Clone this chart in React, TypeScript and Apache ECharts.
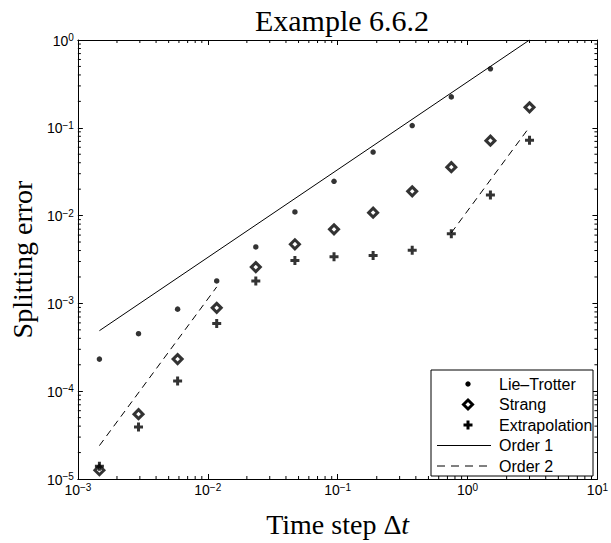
import React, { useEffect, useRef } from "react";
import * as echarts from "echarts";

// ---- data ----
const timeSteps = [0.00146484375, 0.0029296875, 0.005859375, 0.01171875, 0.0234375, 0.046875, 0.09375, 0.1875, 0.375, 0.75, 1.5, 3];
const lieTrotter = [2.32e-4, 4.52e-4, 8.6e-4, 1.8e-3, 4.4e-3, 1.1e-2, 2.46e-2, 5.3e-2, 1.06e-1, 2.25e-1, 4.7e-1];
const strang = [1.26e-5, 5.48e-5, 2.32e-4, 8.9e-4, 2.59e-3, 4.71e-3, 6.97e-3, 1.08e-2, 1.89e-2, 3.56e-2, 7.14e-2, 0.171];
const extrapolation = [1.4e-5, 3.9e-5, 1.31e-4, 5.92e-4, 1.8e-3, 3.08e-3, 3.39e-3, 3.51e-3, 4.04e-3, 6.22e-3, 1.72e-2, 7.2e-2];
const order1X = [0.00146484375, 3];
const order1Y = [4.89e-4, 1.0];
const order2aX = [0.00146484375, 0.01171875];
const order2aY = [2.4e-5, 1.54e-3];
const order2bX = [0.75, 3];
const order2bY = [6.37e-3, 0.102];
const legendNames = ["Lie\u2013Trotter", "Strang", "Extrapolation", "Order 1", "Order 2"];
const xDecades = [-3, -2, -1, 0];
const yDecades = [-5, -4, -3, -2, -1];
const minorMantissas = [2, 3, 4, 5, 6, 7, 8, 9];

const PLUS = "path://M3,0H6V3H9V6H6V9H3V6H0V3H3Z";
const SANS = "Liberation Sans";
const SERIF = "Liberation Serif";

function pairs(xs: number[], ys: number[]) {
  return ys.map((y, i) => [xs[i], y]);
}

function powLabel(v: number) {
  const e = Math.round(Math.log10(v));
  const s = e < 0 ? "\u2212" + -e : String(e);
  return "{b|10}{s|" + s + "}";
}

const labelRich = {
  b: { fontSize: 14, fontFamily: SANS, color: "#000", lineHeight: 15, verticalAlign: "bottom" },
  s: { fontSize: 10, fontFamily: SANS, color: "#000", lineHeight: 10, verticalAlign: "top", padding: [0, 0, 8, 0] },
};

export default function App() {
  const ref = useRef<HTMLDivElement>(null);
  useEffect(() => {
    if (!ref.current) return;
    const chart = echarts.init(ref.current, null, { renderer: "svg" });

    const xMinor: number[] = [];
    xDecades.forEach((d) => minorMantissas.forEach((m) => xMinor.push(m * Math.pow(10, d))));
    const yMinor: number[] = [];
    yDecades.forEach((d) => minorMantissas.forEach((m) => yMinor.push(m * Math.pow(10, d))));

    const tickLine = (x1: number, y1: number, x2: number, y2: number) => ({
      type: "line",
      shape: { x1, y1, x2, y2 },
      style: { stroke: "#000", lineWidth: 1 },
    });

    const baseX = {
      type: "log",
      logBase: 10,
      min: 0.001,
      max: 10,
      splitLine: { show: false },
      axisLine: { show: true, onZero: false, lineStyle: { color: "#000", width: 1 } },
      axisTick: { show: true, inside: true, length: 5, lineStyle: { color: "#000", width: 1 } },
    };
    const baseY = {
      type: "log",
      logBase: 10,
      min: 1e-5,
      max: 1,
      splitLine: { show: false },
      axisLine: { show: true, onZero: false, lineStyle: { color: "#000", width: 1 } },
      axisTick: { show: true, inside: true, length: 5, lineStyle: { color: "#000", width: 1 } },
    };

    // legend drawn as graphic
    const lgX = 431, lgY = 370, lgW = 162, lgH = 106;
    const rowY = [384, 404.5, 425, 445.5, 466];
    const mx = 468;
    const d = 4.5;
    const legendGraphic: any[] = [
      { type: "rect", shape: { x: lgX, y: lgY, width: lgW, height: lgH }, style: { fill: "#fff", stroke: "#000", lineWidth: 1 }, z: 100 },
      { type: "circle", shape: { cx: mx, cy: rowY[0], r: 2.7 }, style: { fill: "#000" }, z: 101 },
      {
        type: "polygon",
        shape: { points: [[mx, rowY[1] - d], [mx + d, rowY[1]], [mx, rowY[1] + d], [mx - d, rowY[1]]] },
        style: { fill: "#fff", stroke: "#000", lineWidth: 3 },
        z: 101,
      },
      {
        type: "polygon",
        shape: {
          points: [
            [mx - 1.5, rowY[2] - 4.5], [mx + 1.5, rowY[2] - 4.5], [mx + 1.5, rowY[2] - 1.5], [mx + 4.5, rowY[2] - 1.5],
            [mx + 4.5, rowY[2] + 1.5], [mx + 1.5, rowY[2] + 1.5], [mx + 1.5, rowY[2] + 4.5], [mx - 1.5, rowY[2] + 4.5],
            [mx - 1.5, rowY[2] + 1.5], [mx - 4.5, rowY[2] + 1.5], [mx - 4.5, rowY[2] - 1.5], [mx - 1.5, rowY[2] - 1.5],
          ],
        },
        style: { fill: "#000" },
        z: 101,
      },
      { type: "line", shape: { x1: 437, y1: rowY[3], x2: 491, y2: rowY[3] }, style: { stroke: "#000", lineWidth: 1 }, z: 101 },
      { type: "line", shape: { x1: 437, y1: rowY[4], x2: 491, y2: rowY[4] }, style: { stroke: "#000", lineWidth: 1, lineDash: [8, 6] }, z: 101 },
    ];
    legendNames.forEach((n, i) => {
      legendGraphic.push({
        type: "text",
        x: 499,
        y: rowY[i],
        style: { text: n, fill: "#000", font: "16px " + SANS, textVerticalAlign: "middle", textAlign: "left" },
        z: 101,
      });
    });

    chart.setOption({
      animation: false,
      backgroundColor: "#fff",
      title: {
        text: "Example 6.6.2",
        left: 337,
        top: 0,
        textAlign: "center",
        textStyle: { fontFamily: SERIF, fontSize: 30, fontWeight: "normal", color: "#000" },
      },
      grid: { left: 74, right: 12, top: 40, bottom: 61, containLabel: false },
      xAxis: [
        {
          ...baseX,
          position: "bottom",
          axisLabel: { formatter: powLabel, rich: labelRich, margin: 3, color: "#000" },
          name: "Time step \u0394{i|t}",
          nameLocation: "middle",
          nameGap: 31,
          nameTextStyle: {
            fontFamily: SERIF,
            fontSize: 28,
            color: "#000",
            rich: { i: { fontFamily: SERIF, fontSize: 28, fontStyle: "italic", color: "#000" } },
          },
        },
        { ...baseX, position: "top", axisLabel: { show: false } },
      ],
      yAxis: [
        {
          ...baseY,
          position: "left",
          axisLabel: { formatter: powLabel, rich: labelRich, margin: 4, color: "#000" },
          name: "Splitting error",
          nameLocation: "middle",
          nameGap: 39,
          nameRotate: 90,
          nameTextStyle: { fontFamily: SERIF, fontSize: 28, color: "#000" },
        },
        { ...baseY, position: "right", axisLabel: { show: false } },
      ],
      series: [
        {
          type: "custom",
          name: "xminor",
          silent: true,
          clip: false,
          data: xMinor.map((v) => [v, 1e-5]),
          renderItem: (params: any, api: any) => {
            const p = api.coord([api.value(0), 1e-5]);
            const cs = params.coordSys;
            return {
              type: "group",
              children: [tickLine(p[0], cs.y + cs.height, p[0], cs.y + cs.height - 3), tickLine(p[0], cs.y, p[0], cs.y + 3)],
            };
          },
        },
        {
          type: "custom",
          name: "yminor",
          silent: true,
          clip: false,
          data: yMinor.map((v) => [0.001, v]),
          renderItem: (params: any, api: any) => {
            const p = api.coord([0.001, api.value(1)]);
            const cs = params.coordSys;
            return {
              type: "group",
              children: [tickLine(cs.x, p[1], cs.x + 3, p[1]), tickLine(cs.x + cs.width, p[1], cs.x + cs.width - 3, p[1])],
            };
          },
        },
        {
          name: "Order 1",
          type: "line",
          data: pairs(order1X, order1Y),
          showSymbol: false,
          symbol: "none",
          lineStyle: { color: "#000", width: 1 },
          z: 2,
        },
        {
          name: "Order 2",
          type: "line",
          data: pairs(order2aX, order2aY),
          showSymbol: false,
          symbol: "none",
          lineStyle: { color: "#000", width: 1, type: [7, 5] },
          z: 2,
        },
        {
          name: "Order 2",
          type: "line",
          data: pairs(order2bX, order2bY),
          showSymbol: false,
          symbol: "none",
          lineStyle: { color: "#000", width: 1, type: [7, 5] },
          z: 2,
        },
        {
          name: "Lie\u2013Trotter",
          type: "scatter",
          data: pairs(timeSteps, lieTrotter),
          symbol: "circle",
          symbolSize: 5.5,
          itemStyle: { color: "#000" },
          z: 3,
        },
        {
          name: "Strang",
          type: "scatter",
          data: pairs(timeSteps, strang),
          symbol: "diamond",
          symbolSize: 9,
          itemStyle: { color: "#fff", borderColor: "#000", borderWidth: 3 },
          z: 3,
        },
        {
          name: "Extrapolation",
          type: "scatter",
          data: pairs(timeSteps, extrapolation),
          symbol: PLUS,
          symbolSize: 9,
          itemStyle: { color: "#000" },
          z: 4,
        },
      ],
      graphic: legendGraphic,
    });

    return () => chart.dispose();
  }, []);

  return <div ref={ref} style={{ position: "fixed", left: 0, top: 0, width: 611, height: 543 }} />;
}
